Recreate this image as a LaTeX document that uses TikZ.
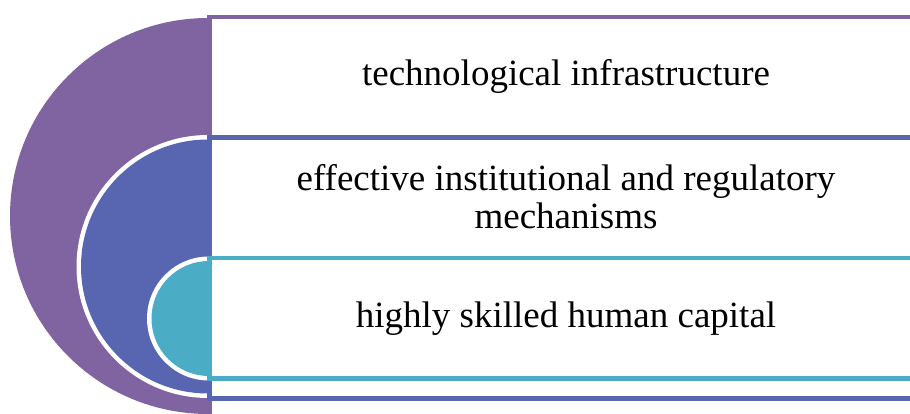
\documentclass[tikz,border=0pt]{standalone}
\usepackage{fontspec}
\setmainfont{Liberation Serif}
\definecolor{cpurple}{HTML}{8064A2}
\definecolor{cblue}{HTML}{5866B2}
\definecolor{cteal}{HTML}{4BACC6}
\begin{document}
\begin{tikzpicture}[x=1pt,y=1pt,
  band/.style={line width=4.2pt, fill=white},
  lbl/.style={font=\fontsize{37}{38}\selectfont, align=center, text=black, inner sep=0pt}]
\useasboundingbox (0,0) rectangle (910,414);
\clip (0,0) rectangle (910,414);
% purple layer
\fill[cpurple] (208,198) ++(0,198) arc[start angle=90,end angle=270,radius=198] -- cycle;
\draw[band, draw=cpurple] (209.5,-30) -- (209.5,397.25) -- (940,397.25) -- (940,-30) -- cycle;
% blue layer
\fill[white] (208,147.5) ++(0,131.5) arc[start angle=90,end angle=270,radius=131.5] -- cycle;
\fill[cblue] (208,147.5) ++(0,127) arc[start angle=90,end angle=270,radius=127] -- cycle;
\draw[band, draw=cblue] (209.5,15.5) -- (209.5,276.5) -- (940,276.5) -- (940,15.5) -- cycle;
% teal layer
\fill[white] (209,95.5) ++(0,62) arc[start angle=90,end angle=270,radius=62] -- cycle;
\fill[cteal] (209,95.5) ++(0,57.5) arc[start angle=90,end angle=270,radius=57.5] -- cycle;
\draw[band, draw=cteal] (209.5,35.5) -- (209.5,156) -- (940,156) -- (940,35.5) -- cycle;
% labels
\node[lbl] (t1) at (566,338) {technological infrastructure};
\node[lbl] (t2) at (566,217) {effective institutional and regulatory\\mechanisms};
\node[lbl] (t3) at (566,95) {highly skilled human capital};
\end{tikzpicture}
\end{document}
